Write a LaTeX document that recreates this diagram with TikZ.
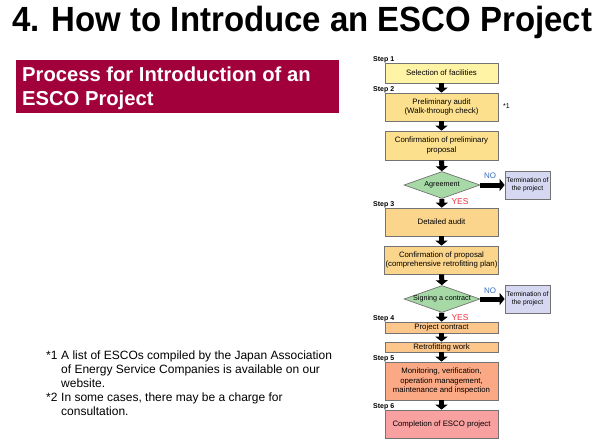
\documentclass[tikz,border=0pt]{standalone}
\usepackage{fontspec}
\setmainfont{Liberation Sans}
\usetikzlibrary{shapes.geometric,arrows.meta}
\definecolor{cA}{HTML}{FFF3A6}
\definecolor{cB}{HTML}{FDE08E}
\definecolor{cC}{HTML}{FCD58C}
\definecolor{cD}{HTML}{FDC68A}
\definecolor{cE}{HTML}{FBA985}
\definecolor{cF}{HTML}{F9A0A0}
\definecolor{cG}{HTML}{A6D9A6}
\definecolor{cT}{HTML}{D6D8F2}
\definecolor{cR}{HTML}{A2003A}
\definecolor{noblue}{HTML}{3A6FC0}
\definecolor{yesred}{HTML}{F03040}
\begin{document}
\begin{tikzpicture}[x=1pt,y=-1pt,
  box/.style={draw=black!55, line width=0.7pt, minimum width=113pt, align=center,
    font=\fontsize{7.8}{9.2}\selectfont, inner sep=1pt},
  dec/.style={diamond, draw=black!55, line width=0.7pt, fill=cG, minimum width=76pt,
    minimum height=27pt, inner sep=0pt},
  dectext/.style={inner sep=0pt, font=\fontsize{7.2}{9}\selectfont},
  term/.style={draw=black!55, line width=0.7pt, fill=cT, minimum width=45pt,
    minimum height=28pt, align=center, inner sep=0pt, font=\fontsize{6.7}{8.5}\selectfont},
  fat/.style={line width=5pt, -{Triangle[width=12pt,length=5pt]}},
  steplbl/.style={anchor=south west, inner sep=0pt, font=\bfseries\fontsize{7}{7}\selectfont},
  nolbl/.style={text=noblue, font=\fontsize{8}{8}\selectfont, inner sep=0pt},
  yeslbl/.style={text=yesred, font=\fontsize{8.5}{8.5}\selectfont, inner sep=0pt},
  foot/.style={anchor=north west, align=left, inner sep=0pt, font=\fontsize{12}{14}\selectfont}
]
\useasboundingbox (0,0) rectangle (600,442);
\fill[white] (0,0) rectangle (600,442);

% title
\node[anchor=west, inner sep=0pt, font=\bfseries\fontsize{35}{40}\selectfont] (title) at (12,22) {\resizebox{580pt}{\height}{4. How to Introduce an ESCO Project}};

% red banner
\node[fill=cR, anchor=north west, minimum width=323pt, minimum height=53pt, inner sep=0pt] (banner) at (16,60) {};
\node[anchor=west, align=left, text=white, inner sep=0pt, font=\bfseries\fontsize{20.2}{24}\selectfont] (bannertext) at (22,88) {Process for Introduction of an\\ESCO Project};

% flowchart boxes
\node[box, fill=cA, minimum height=20pt] (b1) at (441.5,73) {Selection of facilities};
\node[box, fill=cB, minimum height=28pt] (b2) at (441.5,107) {Preliminary audit\\(Walk-through check)};
\node[box, fill=cB, minimum height=29pt] (b3) at (441.5,145.5) {Confirmation of preliminary\\proposal};
\node[dec] (d1) at (442,185) {};
\node[dectext] (d1t) at (d1) {Agreement};
\node[term] (t1) at (527.5,185) {Termination of\\the project};
\node[box, fill=cC, minimum height=28pt] (b4) at (441.5,222) {Detailed audit};
\node[box, fill=cC, minimum height=28pt] (b5) at (441.5,260) {Confirmation of proposal\\(comprehensive retrofitting plan)};
\node[dec] (d2) at (442,299) {};
\node[dectext] (d2t) at (d2) {Signing a contract};
\node[term] (t2) at (527.5,299) {Termination of\\the project};
\node[box, fill=cD, minimum height=11pt] (b6) at (441.5,327.5) {Project contract};
\node[box, fill=cD, minimum height=10pt] (b7) at (441.5,347) {Retrofitting work};
\node[box, fill=cE, minimum height=38pt] (b8) at (441.5,381) {Monitoring, verification,\\operation management,\\maintenance and inspection};
\node[box, fill=cF, minimum height=28pt] (b9) at (441.5,424) {Completion of ESCO project};

% step labels
\node[steplbl] (s1) at (373,63) {Step 1};
\node[steplbl] (s2) at (373,93) {Step 2};
\node[steplbl] (s3) at (373,208) {Step 3};
\node[steplbl] (s4) at (373,322) {Step 4};
\node[steplbl] (s5) at (373,362) {Step 5};
\node[steplbl] (s6) at (373,410) {Step 6};

\node[anchor=west, inner sep=0pt, font=\fontsize{7}{7}\selectfont] (n1) at (503,106) {*1};

% arrows
\draw[fat] (b1) -- (b2);
\draw[fat] (b2) -- (b3);
\draw[fat] (b3) -- (d1);
\draw[fat] (d1) -- (b4);
\draw[fat] (b4) -- (b5);
\draw[fat] (b5) -- (d2);
\draw[fat] (d2) -- (b6);
\draw[fat] (b6) -- (b7);
\draw[fat] (b7) -- (b8);
\draw[fat] (b8) -- (b9);
\draw[fat] (d1) -- (t1);
\draw[fat] (d2) -- (t2);

% yes/no labels
\node[nolbl] (no1) at (490,176) {NO};
\node[nolbl] (no2) at (490,291) {NO};
\node[yeslbl] (yes1) at (460,202) {YES};
\node[yeslbl] (yes2) at (460,318) {YES};

% footnotes
\node[foot] (f1) at (46,351) {\makebox[15pt][l]{*1}A list of ESCOs compiled by the Japan Association\\\hspace*{15pt}of Energy Service Companies is available on our\\\hspace*{15pt}website.};
\node[foot] (f2) at (46,393) {\makebox[15pt][l]{*2}In some cases, there may be a charge for\\\hspace*{15pt}consultation.};
\end{tikzpicture}
\end{document}
